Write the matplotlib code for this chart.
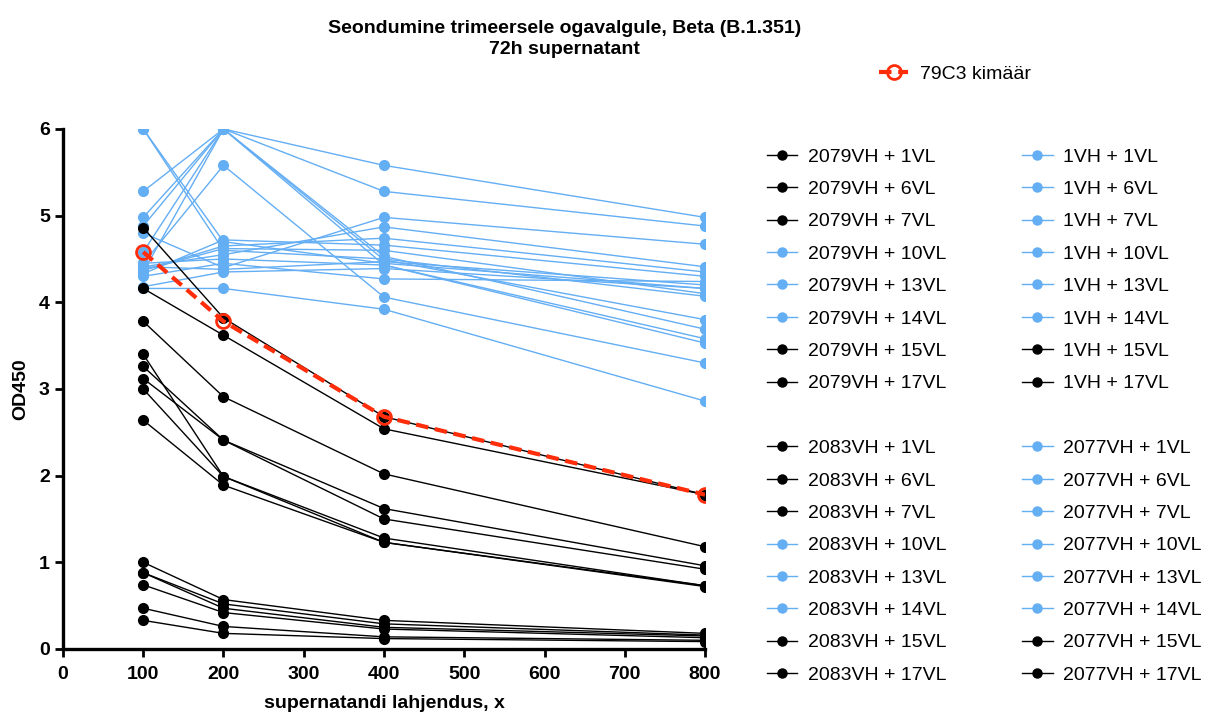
import matplotlib.pyplot as plt
from matplotlib.lines import Line2D

plt.rcParams['font.family'] = ['Liberation Sans', 'DejaVu Sans']

x = [100, 200, 400, 800]

blue = '#64AEF4'
black = '#000000'
red = '#FF2D0A'

# OD450 per construct, keyed by legend label
od = {
    '2079VH + 1VL':  [3.78, 2.91, 2.02, 1.18],
    '2079VH + 6VL':  [3.40, 1.99, 1.28, 0.73],
    '2079VH + 7VL':  [3.26, 2.41, 1.62, 0.96],
    '2079VH + 10VL': [6.00, 4.70, 4.45, 4.16],
    '2079VH + 13VL': [6.00, 4.60, 4.50, 4.07],
    '2079VH + 14VL': [5.28, 6.00, 5.58, 4.98],
    '2079VH + 15VL': [4.86, 3.82, 2.68, 1.78],
    '2079VH + 17VL': [4.16, 3.62, 2.54, 1.78],
    '2083VH + 1VL':  [3.12, 2.41, 1.50, 0.92],
    '2083VH + 6VL':  [3.00, 1.99, 1.23, 0.72],
    '2083VH + 7VL':  [2.64, 1.89, 1.23, 0.73],
    '2083VH + 10VL': [4.98, 6.00, 5.28, 4.88],
    '2083VH + 13VL': [4.88, 6.00, 4.49, 3.80],
    '2083VH + 14VL': [4.80, 4.40, 4.98, 4.67],
    '2083VH + 15VL': [1.00, 0.57, 0.33, 0.18],
    '2083VH + 17VL': [0.88, 0.52, 0.29, 0.16],
    '1VH + 1VL':     [4.58, 6.00, 4.43, 3.58],
    '1VH + 6VL':     [4.45, 5.58, 4.06, 3.30],
    '1VH + 7VL':     [4.35, 6.00, 4.53, 3.69],
    '1VH + 10VL':    [4.41, 4.55, 4.87, 4.41],
    '1VH + 13VL':    [4.37, 4.65, 4.74, 4.35],
    '1VH + 14VL':    [4.33, 4.72, 4.66, 4.30],
    '1VH + 15VL':    [0.88, 0.47, 0.25, 0.15],
    '1VH + 17VL':    [0.74, 0.42, 0.23, 0.13],
    '2077VH + 1VL':  [4.30, 4.45, 4.27, 4.24],
    '2077VH + 6VL':  [4.18, 4.35, 4.39, 4.16],
    '2077VH + 7VL':  [4.16, 4.16, 3.92, 2.86],
    '2077VH + 10VL': [4.45, 4.50, 4.43, 3.53],
    '2077VH + 13VL': [4.41, 4.38, 4.47, 4.20],
    '2077VH + 14VL': [4.37, 4.62, 4.60, 4.10],
    '2077VH + 15VL': [0.47, 0.26, 0.14, 0.10],
    '2077VH + 17VL': [0.33, 0.18, 0.12, 0.085],
}
blue_keys = ['2079VH + 10VL', '2079VH + 13VL', '2079VH + 14VL',
             '2083VH + 10VL', '2083VH + 13VL', '2083VH + 14VL',
             '1VH + 1VL', '1VH + 6VL', '1VH + 7VL', '1VH + 10VL', '1VH + 13VL', '1VH + 14VL',
             '2077VH + 1VL', '2077VH + 6VL', '2077VH + 7VL', '2077VH + 10VL', '2077VH + 13VL', '2077VH + 14VL']

chimera = [4.58, 3.78, 2.68, 1.78]

fig = plt.figure(figsize=(12.06, 7.13), dpi=100)
ax = fig.add_axes([0.0522, 0.0898, 0.5324, 0.7293])

for k, v in od.items():
    c = blue if k in blue_keys else black
    ax.plot(x, v, color=c, lw=1.0, marker='o', ms=7, mec=c, mfc=c, zorder=3 if c == black else 2)

ax.plot(x, chimera, color=red, lw=3, ls=(0, (3, 1.6)), marker='o', ms=10, mfc='none',
        mec=red, mew=2, zorder=5)

ax.set_xlim(0, 800)
ax.set_ylim(0, 6)
ax.set_xticks(range(0, 801, 100))
ax.set_yticks(range(0, 7))
for s in ['top', 'right']:
    ax.spines[s].set_visible(False)
for s in ['left', 'bottom']:
    ax.spines[s].set_linewidth(2.4)
ax.tick_params(width=2, length=6, labelsize=14)
ax.tick_params(axis='x', pad=6)
for lab in ax.get_xticklabels() + ax.get_yticklabels():
    lab.set_fontweight('bold')
ax.set_xlabel('supernatandi lahjendus, x', fontsize=14, fontweight='bold', labelpad=9)
ax.set_ylabel('OD450', fontsize=14, fontweight='bold', labelpad=7)

fig.text(0.468, 0.972, 'Seondumine trimeersele ogavalgule, Beta (B.1.351)\n72h supernatant',
         ha='center', va='top', fontsize=14, fontweight='bold', linespacing=1.3)

# legend: two columns with a blank row between groups
handles, labels = [], []
groups = [list(od)[:16], list(od)[16:]]
for g in groups:
    for i, k in enumerate(g):
        if i == 8:
            handles.append(Line2D([], [], color='none'))
            labels.append('')
        c = blue if k in blue_keys else black
        handles.append(Line2D([], [], color=c, lw=1.0, marker='o', ms=6.5, mfc=c, mec=c))
        labels.append(k)
fig.legend(handles, labels, loc='upper left', bbox_to_anchor=(0.628, 0.806), ncol=2,
           frameon=False, fontsize=14, handlelength=1.55, handletextpad=0.55,
           labelspacing=0.76, columnspacing=3.9, borderpad=0)

red_h = Line2D([], [], color=red, lw=3, ls=(0, (3, 1.6)), marker='o', ms=10, mfc='none', mec=red, mew=2)
fig.legend([red_h], ['79C3 kimäär'], loc='center left', bbox_to_anchor=(0.721, 0.896),
           frameon=False, fontsize=14, handlelength=1.5, handletextpad=0.6, borderpad=0)

fig.savefig('out.png', dpi=100)
